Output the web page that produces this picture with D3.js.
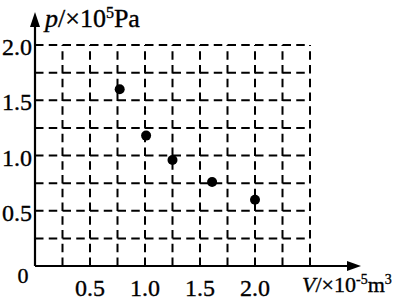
<!DOCTYPE html>
<html>
<head>
<meta charset="utf-8">
<script src="https://cdn.jsdelivr.net/npm/d3@7"></script>
<style>
body { margin: 0; background: #fff; }
text { font-family: "Liberation Serif", "Times New Roman", serif; fill: #000; stroke: #000; stroke-width: 0.35; }
</style>
</head>
<body>
<script>
// p-V data points (V in 10^-5 m^3, p in 10^5 Pa)
var volumes = [0.77, 1.01, 1.25, 1.61, 2.0];
var pressures = [1.6, 1.18, 0.96, 0.76, 0.6];
var xTickLabels = ["0.5", "1.0", "1.5", "2.0"];
var yTickLabels = ["0.5", "1.0", "1.5", "2.0"];
var gridStep = 0.25;

var svg = d3.select("body").append("svg")
  .attr("width", 400)
  .attr("height", 301);

var x = d3.scaleLinear().domain([0, 2.5]).range([35, 310]);
var y = d3.scaleLinear().domain([0, 2.0]).range([266, 45]);

var xGrid = d3.range(1, 11).map(function (i) { return i * gridStep; });
var yGrid = d3.range(1, 9).map(function (i) { return i * gridStep; });

// dashed grid
svg.selectAll(".hgrid").data(yGrid).enter().append("line")
  .attr("x1", x(0)).attr("x2", x(2.5))
  .attr("y1", function (d) { return y(d); })
  .attr("y2", function (d) { return y(d); })
  .attr("stroke", "#000").attr("stroke-width", 2)
  .attr("stroke-dasharray", "8.5,5.25");

svg.selectAll(".vgrid").data(xGrid).enter().append("line")
  .attr("x1", function (d) { return x(d); })
  .attr("x2", function (d) { return x(d); })
  .attr("y1", y(0)).attr("y2", y(2.0))
  .attr("stroke", "#000").attr("stroke-width", 2)
  .attr("stroke-dasharray", "8.5,5.25");

// axes
svg.append("line")
  .attr("x1", x(0)).attr("x2", 352)
  .attr("y1", y(0)).attr("y2", y(0))
  .attr("stroke", "#000").attr("stroke-width", 2.2);
svg.append("path")
  .attr("d", "M361," + y(0) + "L347," + (y(0) - 5) + "L347," + (y(0) + 5) + "Z")
  .attr("fill", "#000");

svg.append("line")
  .attr("x1", x(0)).attr("x2", x(0))
  .attr("y1", y(0)).attr("y2", 22)
  .attr("stroke", "#000").attr("stroke-width", 2.2);
svg.append("path")
  .attr("d", "M" + x(0) + ",12L" + (x(0) - 5) + ",27L" + (x(0) + 5) + ",27Z")
  .attr("fill", "#000");

// tick labels
svg.selectAll(".xlab").data(xTickLabels).enter().append("text")
  .attr("x", function (d) { return x(+d); })
  .attr("y", 296)
  .attr("text-anchor", "middle")
  .attr("font-size", 24)
  .text(function (d) { return d; });

svg.selectAll(".ylab").data(yTickLabels).enter().append("text")
  .attr("x", 32)
  .attr("y", function (d) { return y(+d) + 10; })
  .attr("text-anchor", "end")
  .attr("font-size", 24)
  .text(function (d) { return d; });

svg.append("text")
  .attr("x", 23).attr("y", 283)
  .attr("text-anchor", "middle")
  .attr("font-size", 22)
  .text("0");

// axis titles
var yt = svg.append("text").attr("x", 45).attr("y", 27).attr("font-size", 26);
yt.append("tspan").attr("font-style", "italic").text("p");
yt.append("tspan").text("/×10");
yt.append("tspan").attr("font-size", 16).attr("dy", -9).text("5");
yt.append("tspan").attr("dy", 9).text("Pa");

var xt = svg.append("text").attr("x", 302).attr("y", 292).attr("font-size", 22);
xt.append("tspan").attr("font-style", "italic").text("V");
xt.append("tspan").text("/×10");
xt.append("tspan").attr("font-size", 14).attr("dy", -8).text("-5");
xt.append("tspan").attr("dy", 8).text("m");
xt.append("tspan").attr("font-size", 14).attr("dy", -8).text("3");

// data points
svg.selectAll(".dot").data(volumes).enter().append("circle")
  .attr("cx", function (d) { return x(d); })
  .attr("cy", function (d, i) { return y(pressures[i]); })
  .attr("r", 5)
  .attr("fill", "#000");
</script>
</body>
</html>
